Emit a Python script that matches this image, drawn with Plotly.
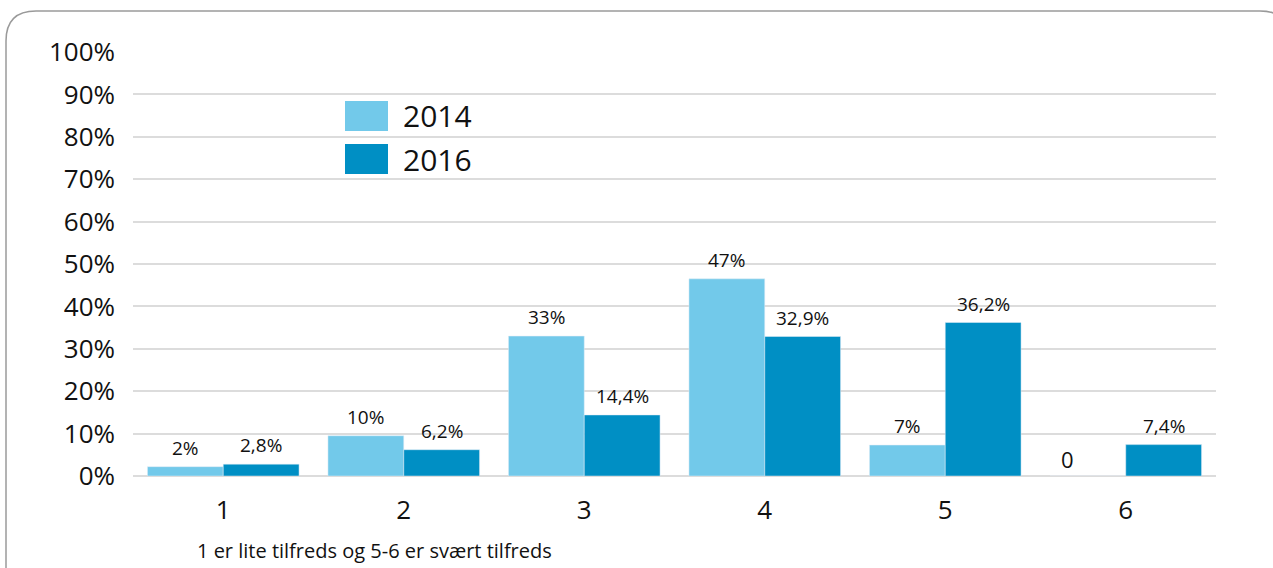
import plotly.graph_objects as go

categories = ["1", "2", "3", "4", "5", "6"]
values_2014 = [2.2, 9.5, 33, 46.5, 7.3, 0]
values_2016 = [2.8, 6.2, 14.4, 32.9, 36.2, 7.4]
labels_2014 = ["2%", "10%", "33%", "47%", "7%", "0"]
labels_2016 = ["2,8%", "6,2%", "14,4%", "32,9%", "36,2%", "7,4%"]
y_ticks = list(range(0, 101, 10))

W, H = 1273, 568
L, R, T, B = 133, 57, 52, 92
PW, PH = W - L - R, H - T - B

FONT = "Open Sans"
C2014 = "#72C9EA"
C2016 = "#008FC4"
BARGAP = 0.16


def px(x):
    return (x - L) / PW


def py(y):
    return (H - B - y) / PH


fig = go.Figure()
fig.add_trace(go.Bar(name="2014", x=categories, y=values_2014,
                     marker_color=C2014, showlegend=False))
fig.add_trace(go.Bar(name="2016", x=categories, y=values_2016,
                     marker_color=C2016, showlegend=False))

# value labels above the bars
half_bar = PW / len(categories) * (1 - BARGAP) / 4
annotations = []
for vals, labs, shift in [(values_2014, labels_2014, -half_bar),
                          (values_2016, labels_2016, half_bar)]:
    for i, (v, t) in enumerate(zip(vals, labs)):
        big = t == "0"
        annotations.append(dict(
            x=i, y=v, text=t, showarrow=False,
            xshift=shift - 20 if big else shift,
            yanchor="bottom", yshift=0 if big else 4,
            font=dict(size=22 if big else 19, family=FONT, color="#111")))

# rounded frame
x0, x1, y0, y1, r = px(6), px(1290), py(11), py(600), 30
rx, ry = r / PW, r / PH
path = (f"M {x0},{y1 + ry} L {x0},{y0 - ry} Q {x0},{y0} {x0 + rx},{y0} "
        f"L {x1 - rx},{y0} Q {x1},{y0} {x1},{y0 - ry} L {x1},{y1 + ry} "
        f"Q {x1},{y1} {x1 - rx},{y1} L {x0 + rx},{y1} Q {x0},{y1} {x0},{y1 + ry} Z")
shapes = [dict(type="path", xref="paper", yref="paper", path=path,
               line=dict(color="#9a9a9a", width=1.5), layer="below")]

# legend swatches and labels
for name, col, top in [("2014", C2014, 101), ("2016", C2016, 144)]:
    shapes.append(dict(type="rect", xref="paper", yref="paper",
                       x0=px(345), x1=px(388), y0=py(top), y1=py(top + 30),
                       fillcolor=col, line_width=0))
    annotations.append(dict(text=name, xref="paper", yref="paper", x=px(401),
                            y=py(top + 15), xanchor="left", yanchor="middle",
                            showarrow=False,
                            font=dict(size=30, family=FONT, color="#111")))

annotations.append(dict(
    text="1 er lite tilfreds og 5-6 er svært tilfreds", xref="paper", yref="paper",
    x=px(195), y=py(550), xanchor="left", yanchor="middle", showarrow=False,
    font=dict(size=20, family=FONT, color="#111")))

fig.update_layout(
    width=W, height=H,
    margin=dict(l=L, r=R, t=T, b=B),
    plot_bgcolor="white", paper_bgcolor="white",
    barmode="group", bargap=BARGAP, bargroupgap=0,
    font=dict(family=FONT, color="#111"),
    shapes=shapes, annotations=annotations,
    xaxis=dict(tickfont=dict(size=26), showgrid=False, ticks="",
               ticklabelstandoff=16, showline=False, fixedrange=True),
    yaxis=dict(range=[0, 100], tickvals=y_ticks,
               ticktext=[f"{v}%" for v in y_ticks],
               tickfont=dict(size=26), showgrid=True, gridcolor="#dcdcdc",
               gridwidth=1.5, zeroline=True, zerolinecolor="#dcdcdc",
               zerolinewidth=1.5, ticklabelstandoff=17, fixedrange=True),
)

fig.write_html("out.html", config={"displayModeBar": False},
               post_script="document.body.style.margin='0';")
